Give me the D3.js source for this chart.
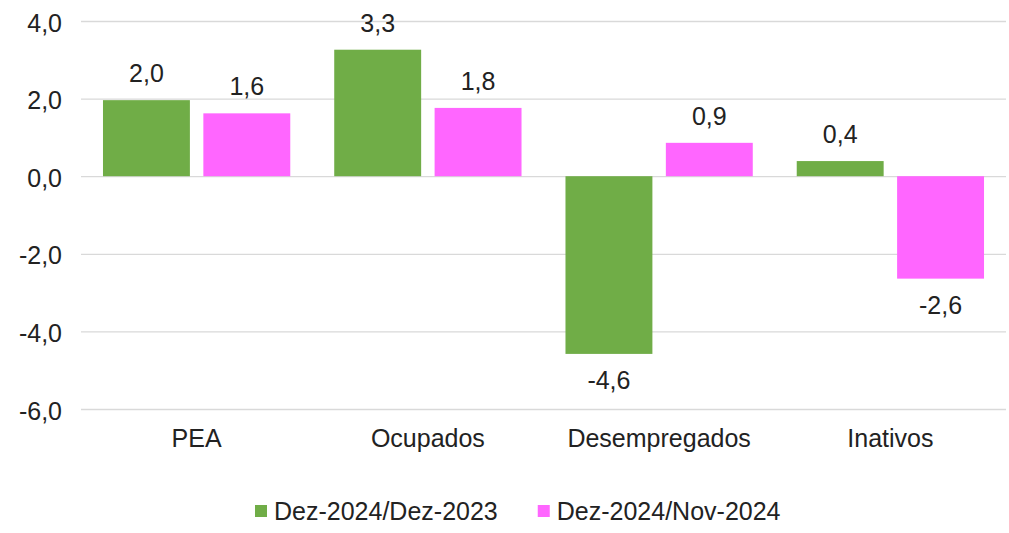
<!DOCTYPE html>
<html>
<head>
<meta charset="utf-8">
<script src="https://cdn.jsdelivr.net/npm/d3@7"></script>
<style>
  body { margin: 0; background: #fff; }
  svg { display: block; font-family: "Liberation Sans", Arial, sans-serif; }
</style>
</head>
<body>
<div id="chart"></div>
<script>
// values
var categories = ["PEA", "Ocupados", "Desempregados", "Inativos"];
var seriesNames = ["Dez-2024/Dez-2023", "Dez-2024/Nov-2024"];
var anual = [1.96, 3.26, -4.58, 0.39];
var mensal = [1.62, 1.76, 0.86, -2.64];
var yTicks = [-6, -4, -2, 0, 2, 4];

var colors = ["#70AD47", "#FF66FF"];
var textColor = "#222";

var w = 1009, h = 533;
var plotLeft = 81, plotRight = 1006, plotTop = 21, plotBottom = 409;

var svg = d3.select("#chart").append("svg")
  .attr("width", w)
  .attr("height", h);

var y = d3.scaleLinear().domain([-6, 4]).range([plotBottom, plotTop]);
var x = d3.scaleBand().domain(categories).range([plotLeft, plotRight]);
var xs = d3.scaleBand().domain(seriesNames).range([0, x.bandwidth()])
  .paddingInner(0.134).paddingOuter(0.219);

// gridlines + tick labels
var yAxis = svg.append("g")
  .attr("transform", "translate(" + plotLeft + ",0)")
  .call(d3.axisLeft(y).tickValues(yTicks).tickSize(-(plotRight - plotLeft)).tickPadding(19)
    .tickFormat(function(d) { return d.toFixed(1).replace(".", ","); }));
yAxis.select(".domain").remove();
yAxis.selectAll(".tick line").attr("stroke", "#d9d9d9").attr("stroke-width", 1.3);
yAxis.selectAll(".tick text")
  .attr("fill", textColor)
  .attr("font-size", 25)
  .attr("dy", "0.4em");

var rows = categories.map(function(c, i) {
  return { cat: c, values: [anual[i], mensal[i]] };
});

var groups = svg.append("g").selectAll("g")
  .data(rows)
  .enter().append("g")
  .attr("transform", function(d) { return "translate(" + x(d.cat) + ",0)"; });

groups.selectAll("rect")
  .data(function(d) { return d.values.map(function(v, j) { return { s: seriesNames[j], v: v, j: j }; }); })
  .enter().append("rect")
  .attr("x", function(d) { return xs(d.s); })
  .attr("y", function(d) { return y(Math.max(0, d.v)); })
  .attr("width", xs.bandwidth())
  .attr("height", function(d) { return Math.abs(y(d.v) - y(0)); })
  .attr("fill", function(d) { return colors[d.j]; });

groups.selectAll("text")
  .data(function(d) { return d.values.map(function(v, j) { return { s: seriesNames[j], v: v }; }); })
  .enter().append("text")
  .attr("x", function(d) { return xs(d.s) + xs.bandwidth() / 2; })
  .attr("y", function(d) { return d.v >= 0 ? y(d.v) - 18 : y(d.v) + 35; })
  .attr("text-anchor", "middle")
  .attr("font-size", 25)
  .attr("fill", textColor)
  .text(function(d) { return d.v.toFixed(1).replace(".", ","); });

// category labels
var xAxis = svg.append("g")
  .attr("transform", "translate(0," + plotBottom + ")")
  .call(d3.axisBottom(x).tickSize(0).tickPadding(20));
xAxis.select(".domain").remove();
xAxis.selectAll(".tick text")
  .attr("fill", textColor)
  .attr("font-size", 25);

// legend
var legend = svg.append("g");
var lx = 255;
seriesNames.forEach(function(name, i) {
  legend.append("rect")
    .attr("x", lx).attr("y", 505)
    .attr("width", 12).attr("height", 12)
    .attr("fill", colors[i]);
  var t = legend.append("text")
    .attr("x", lx + 19).attr("y", 520)
    .attr("font-size", 25)
    .attr("fill", textColor)
    .text(name);
  lx = lx + 19 + t.node().getComputedTextLength() + 40;
});
</script>
</body>
</html>
